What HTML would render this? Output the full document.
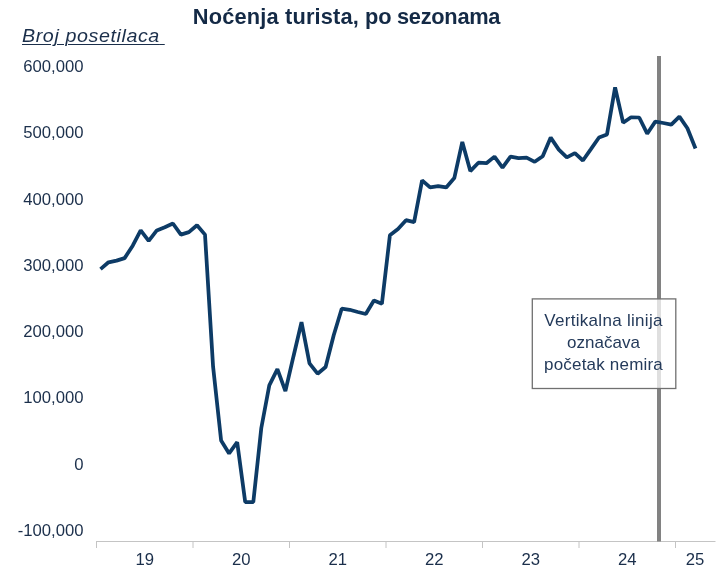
<!DOCTYPE html>
<html lang="sr"><head><meta charset="utf-8"><title>Noćenja turista, po sezonama</title>
<style>
html,body{margin:0;padding:0;background:#fff;}
body{width:728px;height:574px;position:relative;overflow:hidden;font-family:"Liberation Sans",sans-serif;}
#title{position:absolute;left:0;top:3.6px;width:693px;text-align:center;font-weight:bold;font-size:21.8px;line-height:26px;color:#142a46;white-space:nowrap;}
#sub{position:absolute;left:22.2px;top:25.3px;font-style:italic;font-size:18.4px;line-height:22px;color:#1b2f4b;white-space:pre;text-decoration:underline;text-decoration-thickness:1.2px;text-underline-offset:2px;letter-spacing:0.55px;transform:scaleX(1.07);transform-origin:0 0;}
.yl{position:absolute;left:0;width:83.6px;text-align:right;font-size:16.7px;line-height:20px;height:20px;color:#1b2f4b;white-space:nowrap;}
.xl{position:absolute;top:550.2px;width:60px;text-align:center;font-size:16.7px;line-height:20px;color:#1b2f4b;}
svg{position:absolute;left:0;top:0;}
#boxt{position:absolute;left:532px;top:298.5px;width:143px;height:88px;box-sizing:border-box;text-align:center;font-size:17px;line-height:22px;color:#243a5a;padding-top:11px;white-space:nowrap;}
</style></head><body>
<svg width="728" height="574" viewBox="0 0 728 574">
<g stroke="#c4c4c4" stroke-width="1" fill="none"><line x1="96" y1="541.5" x2="715.5" y2="541.5"/><line x1="96.5" y1="541.5" x2="96.5" y2="548"/><line x1="193.0" y1="541.5" x2="193.0" y2="548"/><line x1="289.5" y1="541.5" x2="289.5" y2="548"/><line x1="386.0" y1="541.5" x2="386.0" y2="548"/><line x1="482.5" y1="541.5" x2="482.5" y2="548"/><line x1="579.0" y1="541.5" x2="579.0" y2="548"/><line x1="675.5" y1="541.5" x2="675.5" y2="548"/></g>
<rect x="657" y="56" width="4" height="485.5" fill="#828282"/>
<polyline fill="none" stroke="#0d3b66" stroke-width="3.75" stroke-linejoin="bevel" stroke-linecap="butt" points="100.5,269.1 108.5,262.3 116.6,260.6 124.6,258.1 132.7,245.7 140.7,230.4 148.7,240.8 156.8,230.4 164.8,227.2 172.9,223.5 180.9,234.6 188.9,232.1 197.0,225.2 205.0,234.6 213.1,366.8 221.1,440.4 229.1,453.4 237.2,442.2 245.2,502.1 253.3,502.1 261.3,428.0 269.3,385.3 277.4,369.1 285.4,391.1 293.5,356.2 301.5,322.2 309.5,363.4 317.6,373.7 325.6,367.0 333.7,335.2 341.7,308.7 349.7,309.8 357.8,312.0 365.8,314.0 373.9,300.5 381.9,303.7 389.9,235.3 398.0,229.0 406.0,220.2 414.1,222.1 422.1,180.3 430.1,187.4 438.2,186.2 446.2,187.4 454.3,178.1 462.3,141.9 470.3,171.1 478.4,162.7 486.4,163.2 494.5,156.6 502.5,167.6 510.5,156.6 518.6,158.1 526.6,157.7 534.7,161.8 542.7,156.2 550.7,137.6 558.8,149.6 566.8,157.3 574.9,153.1 582.9,160.5 590.9,149.1 599.0,137.5 607.0,134.4 615.1,87.4 623.1,122.7 631.1,117.3 639.2,117.5 647.2,133.7 655.3,121.6 663.3,123.0 671.3,124.7 679.4,116.6 687.4,128.2 695.5,148.5"/>
<rect x="532.3" y="298.9" width="143.5" height="89.6" fill="#ffffff" fill-opacity="0.74" stroke="#707070" stroke-width="1.3"/>
</svg>
<div id="title"><span style="letter-spacing:0.17px">Noćenja turista,</span> <span style="letter-spacing:-0.27px">po sezonama</span></div>
<div id="sub">Broj posetilaca<span style="letter-spacing:-0.6px"> </span></div>
<div class="yl" style="top:57.2px">600,000</div><div class="yl" style="top:123.4px">500,000</div><div class="yl" style="top:189.7px">400,000</div><div class="yl" style="top:255.9px">300,000</div><div class="yl" style="top:322.1px">200,000</div><div class="yl" style="top:388.4px">100,000</div><div class="yl" style="top:454.6px">0</div><div class="yl" style="top:520.9px">-100,000</div><div class="xl" style="left:114.8px">19</div><div class="xl" style="left:211.3px">20</div><div class="xl" style="left:307.8px">21</div><div class="xl" style="left:404.3px">22</div><div class="xl" style="left:500.8px">23</div><div class="xl" style="left:597.3px">24</div><div class="xl" style="left:665px">25</div>

<div id="boxt"><span style="letter-spacing:0.3px">Vertikalna linija</span><br>označava<br><span style="letter-spacing:0.2px">početak nemira</span></div>
</body></html>
